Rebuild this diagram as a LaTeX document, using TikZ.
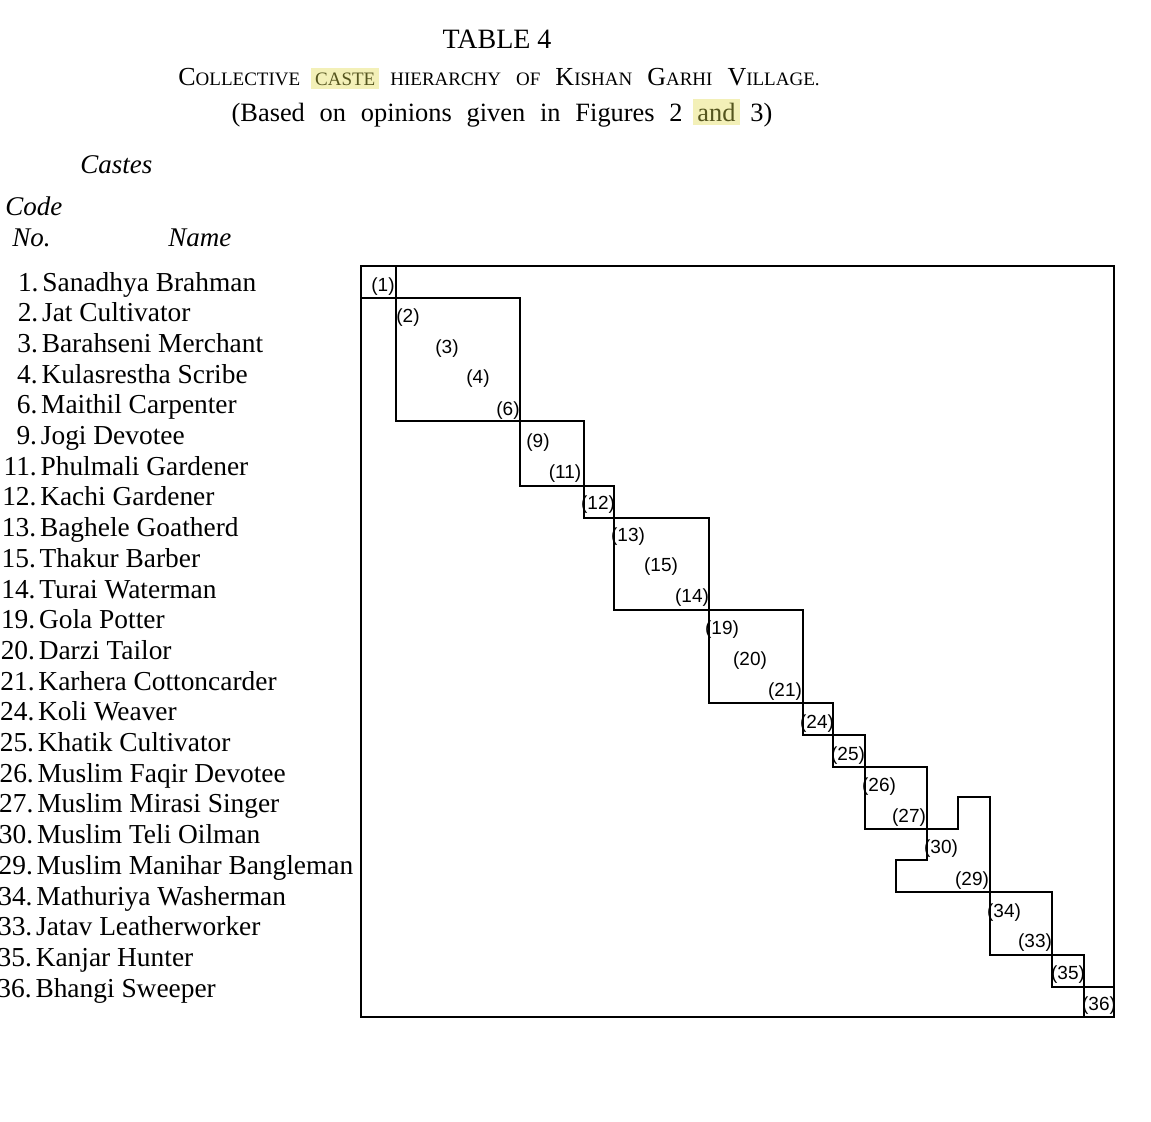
\documentclass[tikz,border=0pt]{standalone}
\usepackage{fontspec}
\setmainfont{Liberation Serif}
\newfontfamily\labfont{Liberation Sans}
\definecolor{hl}{HTML}{F3F0B8}
\definecolor{hltext}{HTML}{55551E}
\newcommand\hlword[1]{{\setlength{\fboxsep}{2pt}\hspace{-2pt}\colorbox{hl}{\textcolor{hltext}{#1}}\hspace{-2pt}}}
\newcommand\capbig[1]{{\fontsize{13}{15}\selectfont #1}}
\newcommand\capsmall[1]{{\fontsize{9.5}{11}\selectfont #1}}
\begin{document}
\begin{tikzpicture}[x=0.5pt,y=-0.5pt,
  frame/.style={line width=1pt, line join=miter},
  rowtext/.style={anchor=base west, inner sep=0pt, font=\fontsize{13.7}{15}\selectfont},
  rownum/.style={anchor=base east, inner sep=0pt, font=\fontsize{13.7}{15}\selectfont},
  head/.style={anchor=base west, inner sep=0pt, font=\fontsize{13.5}{15}\selectfont\itshape},
  lab/.style={inner sep=0pt, font=\labfont\fontsize{9.5}{11}\selectfont}]
\useasboundingbox (0,0) rectangle (1151,1121);
\clip (0,0) rectangle (1151,1121);

% titles
\node[anchor=base, inner sep=0pt, font=\fontsize{14}{16}\selectfont] (title) at (497,48) {TABLE 4};
\node[anchor=base, inner sep=0pt] (caption) at (499,85)
  {\capbig{C}\capsmall{OLLECTIVE}\hspace{7.5pt}\capsmall{\hlword{CASTE}}\hspace{7.5pt}\capsmall{HIERARCHY}\hspace{7.5pt}\capsmall{OF}\hspace{7.5pt}\capbig{K}\capsmall{ISHAN}\hspace{7.5pt}\capbig{G}\capsmall{ARHI}\hspace{7.5pt}\capbig{V}\capsmall{ILLAGE.}};
\node[anchor=base, inner sep=0pt, font=\fontsize{13.2}{15}\selectfont] (basis) at (502,121)
  {\spaceskip=7.4pt (Based on opinions given in Figures 2 \hlword{and} 3)};

% column heads
\node[head] (castes) at (80,173) {Castes};
\node[head] (code) at (5,215) {Code};
\node[head] (no) at (12,246) {No.};
\node[head] (name) at (168,246) {Name};

% rows
\foreach \n/\t [count=\i] in {1/Sanadhya Brahman, 2/Jat Cultivator, 3/Barahseni Merchant,
  4/Kulasrestha Scribe, 6/Maithil Carpenter, 9/Jogi Devotee, 11/Phulmali Gardener,
  12/Kachi Gardener, 13/Baghele Goatherd, 15/Thakur Barber, 14/Turai Waterman,
  19/Gola Potter, 20/Darzi Tailor, 21/Karhera Cottoncarder, 24/Koli Weaver,
  25/Khatik Cultivator, 26/Muslim Faqir Devotee, 27/Muslim Mirasi Singer,
  30/Muslim Teli Oilman, 29/Muslim Manihar Bangleman, 34/Mathuriya Washerman,
  33/Jatav Leatherworker, 35/Kanjar Hunter, 36/Bhangi Sweeper}{
  \pgfmathsetmacro\yy{291+(\i-1)*30.7}
  \pgfmathsetmacro\xx{42-(\i-1)*0.3}
  \node[rowtext] (name\i) at (\xx,\yy) {\t};
  \node[rownum] (num\i) at (\xx-3,\yy) {\n.};
}

% frame and blocks
\draw[frame] (361,266) rectangle (1114,1017);
\draw[frame] (361,266) rectangle (396,298);
\draw[frame] (396,298) rectangle (520,421);
\draw[frame] (520,421) rectangle (584,486);
\draw[frame] (584,486) rectangle (614,518);
\draw[frame] (614,518) rectangle (709,610);
\draw[frame] (709,610) rectangle (803,703);
\draw[frame] (803,703) rectangle (833,735);
\draw[frame] (833,735) rectangle (865,767);
\draw[frame] (865,767) rectangle (927,829);
\draw[frame] (958,797) -- (990,797) -- (990,892) -- (896,892) -- (896,860)
  -- (927,860) -- (927,829) -- (958,829) -- cycle;
\draw[frame] (990,892) rectangle (1052,955);
\draw[frame] (1052,955) rectangle (1084,987);
\draw[frame] (1084,987) rectangle (1114,1017);

% cell labels
\foreach \n/\x/\y in {1/383/287, 2/408/318, 3/447/349, 4/478/379, 6/508/411,
  9/538/443, 11/565/474, 12/598/505, 13/628/537, 15/661/567, 14/692/598,
  19/722/630, 20/750/661, 21/785/692, 24/817/724, 25/848/756, 26/879/787,
  27/909/818, 30/941/849, 29/972/881, 34/1004/913, 33/1035/943, 35/1068/975,
  36/1099/1006}{
  \node[lab] (l\n) at (\x,\y) {(\n)};
}
\end{tikzpicture}
\end{document}
